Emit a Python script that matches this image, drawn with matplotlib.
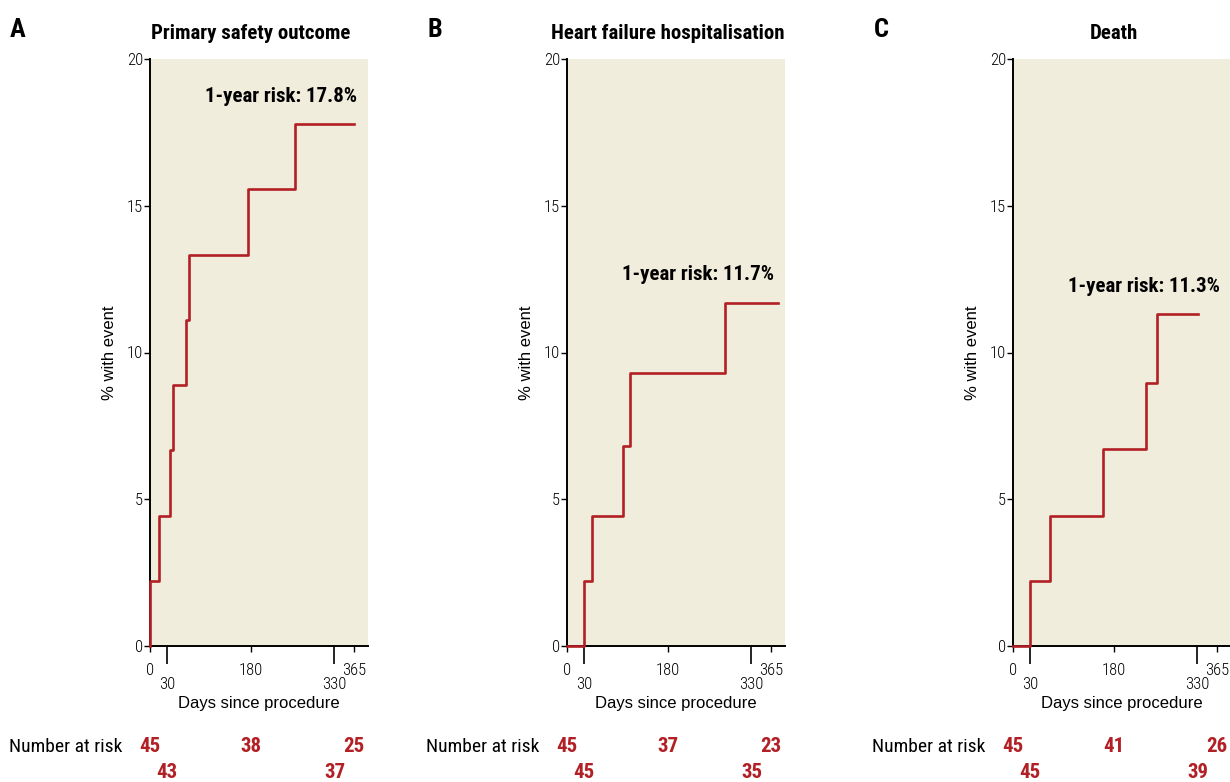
import matplotlib
matplotlib.use('Agg')
import matplotlib.pyplot as plt
from matplotlib.transforms import blended_transform_factory

# data
titles = ['Primary safety outcome', 'Heart failure hospitalisation', 'Death']
letters = ['A', 'B', 'C']
risk_text = ['1-year risk: 17.8%', '1-year risk: 11.7%', '1-year risk: 11.3%']

days_a = [0, 0, 16, 36, 42, 64, 69, 176, 260, 365]
pct_a = [0, 2.22, 4.44, 6.67, 8.89, 11.11, 13.33, 15.56, 17.78, 17.78]
days_b = [0, 30, 45, 100, 113, 282, 377]
pct_b = [0, 2.22, 4.44, 6.8, 9.3, 11.7, 11.7]
days_c = [0, 30, 66, 161, 238, 258, 331]
pct_c = [0, 2.22, 4.44, 6.7, 8.95, 11.3, 11.3]

risk_days_top = [0, 180, 365]
risk_days_bottom = [30, 330]
at_risk_top = [[45, 38, 25], [45, 37, 23], [45, 41, 26]]
at_risk_bottom = [[43, 37], [45, 35], [45, 39]]

days = [days_a, days_b, days_c]
pcts = [pct_a, pct_b, pct_c]

narrow = ['Roboto Condensed', 'IBM Plex Sans Condensed', 'DejaVu Sans']
plain = ['Liberation Sans', 'DejaVu Sans']
red = '#b22025'
beige = '#f1eddc'

fig = plt.figure(figsize=(12.3, 7.82), dpi=100)
lefts = [150, 567, 1013]
W, H = 1230, 782

for i in range(3):
    ax = fig.add_axes([lefts[i] / W, 1 - 646 / H, 218 / W, 587 / H])
    ax.set_facecolor(beige)
    ax.plot(days[i], pcts[i], drawstyle='steps-post', color=red, lw=1.9, clip_on=False, zorder=5)
    ax.set_xlim(0, 390)
    ax.set_ylim(0, 20)
    for s in ['top', 'right']:
        ax.spines[s].set_visible(False)
    ax.spines['left'].set_linewidth(1.4)
    ax.spines['bottom'].set_linewidth(1.4)

    ax.set_yticks([0, 5, 10, 15, 20])
    ax.tick_params(axis='y', length=4, width=1, pad=1)
    ax.set_xticks(risk_days_top)
    ax.set_xticks(risk_days_bottom, minor=True)
    ax.set_xticklabels([str(d) for d in risk_days_top])
    ax.set_xticklabels([str(d) for d in risk_days_bottom], minor=True)
    ax.tick_params(axis='x', which='major', length=4.5, width=1, pad=7.5)
    ax.tick_params(axis='x', which='minor', length=13, width=1.2, pad=9)
    for lab in ax.get_xticklabels(which='both') + ax.get_yticklabels():
        lab.set_family(narrow)
        lab.set_fontweight('light')
        lab.set_fontsize(12)

    ax.set_xlabel('Days since procedure', family=plain, fontsize=12, labelpad=3)
    ax.set_ylabel('% with event', family=plain, fontsize=12, labelpad=7)

    tr = blended_transform_factory(ax.transData, ax.transAxes)
    ax.text(180, 1.044, titles[i], transform=tr, ha='center', va='center',
            family=narrow, fontweight='bold', fontsize=15)
    ax.text(370, pcts[i][-1] + 0.95, risk_text[i], ha='right', va='center',
            family=narrow, fontweight='bold', fontsize=15)
    fig.text((lefts[i] - 132) / W, 1 - 30 / H, letters[i], ha='center', va='center',
             family=narrow, fontweight='bold', fontsize=19)

    ax.text(-50, -0.172, 'Number at risk', transform=tr, ha='right', va='center',
            family=narrow, fontsize=14)
    for d, n in zip(risk_days_top, at_risk_top[i]):
        ax.text(d, -0.172, str(n), transform=tr, ha='center', va='center',
                family=narrow, fontweight='bold', fontsize=15, color=red)
    for d, n in zip(risk_days_bottom, at_risk_bottom[i]):
        ax.text(d, -0.216, str(n), transform=tr, ha='center', va='center',
                family=narrow, fontweight='bold', fontsize=15, color=red)

fig.savefig('out.png', dpi=100)
